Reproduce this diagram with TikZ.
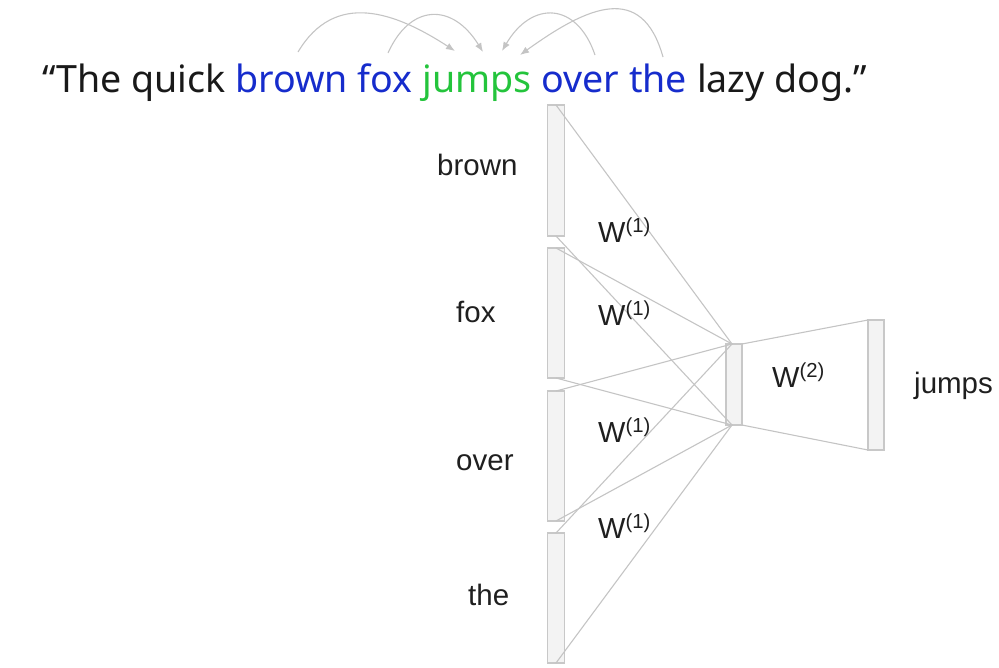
\documentclass[tikz,border=0pt]{standalone}
\usepackage{fontspec}
\setmainfont{Liberation Sans}
\newfontfamily\topfont{Noto Sans}
\usetikzlibrary{arrows.meta}
\definecolor{wblue}{RGB}{22,44,204}
\definecolor{wgreen}{RGB}{36,196,60}
\definecolor{linegray}{RGB}{196,196,196}
\definecolor{bardraw}{RGB}{200,200,200}
\definecolor{barfill}{RGB}{243,243,243}
\begin{document}
\begin{tikzpicture}[x=1pt,y=-1pt,
  bar/.style={draw=bardraw,fill=barfill,line width=1.2pt,minimum width=17pt,inner sep=0pt,outer sep=0pt},
  conn/.style={draw=linegray,line width=1.1pt},
  curv/.style={draw=linegray,line width=1.1pt,-{Latex[length=9pt,width=7pt]}},
  lbl/.style={font=\fontsize{29.5}{32}\selectfont,inner sep=0pt,anchor=base west,text=black!88},
  wlbl/.style={font=\fontsize{29}{32}\selectfont,inner sep=0pt,anchor=base west,text=black!88}]
\useasboundingbox (0,0) rectangle (999,667);
% sentence
\node[anchor=base west,inner sep=0pt,font=\topfont\fontsize{37.6}{42}\selectfont,text=black!90] (sent) at (42,92)
  {“The quick \textcolor{wblue}{brown fox} \textcolor{wgreen}{jumps} \textcolor{wblue}{over the} lazy dog.”};
% curve end points
\coordinate (s1) at (298,52); \coordinate (s2) at (388,53);
\coordinate (s3) at (595,55); \coordinate (s4) at (663,57);
\coordinate (e1) at (455,51); \coordinate (e2) at (483,52);
\coordinate (e3) at (502,51); \coordinate (e4) at (520,55);
\draw[curv] (s1) .. controls (335,-10) and (395,12) .. (e1);
\draw[curv] (s2) .. controls (410,4) and (452,2) .. (e2);
\draw[curv] (s3) .. controls (577,2) and (532,0) .. (e3);
\draw[curv] (s4) .. controls (642,-18) and (588,6) .. (e4);
\coordinate (h1) at (732,344);
\coordinate (h2) at (732,425);
% bars
\node[bar,minimum height=131pt] (bbrown) at (556,170.5) {};
\node[bar,minimum height=130pt] (bfox) at (556,313) {};
\node[bar,minimum height=130pt] (bover) at (556,456) {};
\node[bar,minimum height=130pt] (bthe) at (556,598) {};
\node[bar,minimum width=16pt,minimum height=81pt] (hid) at (734,384.5) {};
\node[bar,minimum width=16pt,minimum height=130pt] (out) at (876,385) {};
% connectors
\foreach \b in {bbrown,bfox,bover,bthe}{
  \draw[conn] (\b.north) -- (h1);
  \draw[conn] (\b.south) -- (h2);
}
\draw[conn] (hid.north east) -- (out.north west);
\draw[conn] (hid.south east) -- (out.south west);
% labels
\node[lbl] (lbrown) at (437,175) {brown};
\node[lbl] (lfox) at (456,322) {fox};
\node[lbl] (lover) at (456,470) {over};
\node[lbl] (lthe) at (468,605) {the};
\node[lbl] (ljumps) at (914,393) {jumps};
\node[wlbl] (w1) at (598,242) {W\textsuperscript{(1)}};
\node[wlbl] (w2) at (598,325) {W\textsuperscript{(1)}};
\node[wlbl] (w3) at (598,442) {W\textsuperscript{(1)}};
\node[wlbl] (w4) at (598,538) {W\textsuperscript{(1)}};
\node[wlbl] (w5) at (772,387) {W\textsuperscript{(2)}};
\end{tikzpicture}
\end{document}
